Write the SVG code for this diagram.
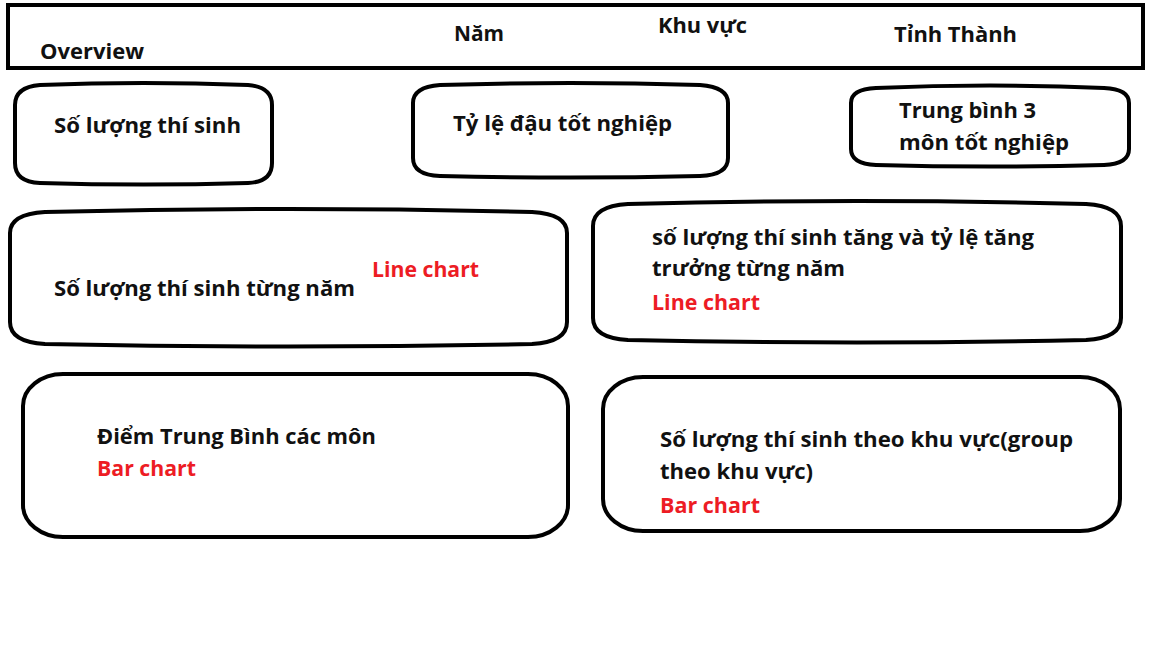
<svg xmlns="http://www.w3.org/2000/svg" width="1152" height="648" viewBox="0 0 1152 648">
<style>
.box{fill:#fff;stroke:#000;stroke-width:4}
.t{font-family:"Open Sans","Noto Sans","Liberation Sans",sans-serif;font-weight:700;font-size:22px;fill:#111}
.r{fill:#ED1C24}
</style>
<rect width="1152" height="648" fill="#fff"/>
<g id="header">
<rect x="8" y="5" width="1135" height="63" fill="#fff" stroke="#000" stroke-width="4"/>
<text class="t" x="40" y="59" textLength="104" lengthAdjust="spacingAndGlyphs">Overview</text>
<text class="t" x="454" y="41" textLength="50" lengthAdjust="spacingAndGlyphs">Năm</text>
<text class="t" x="658" y="33" textLength="89" lengthAdjust="spacingAndGlyphs">Khu vực</text>
<text class="t" x="894" y="42" textLength="123" lengthAdjust="spacingAndGlyphs">Tỉnh Thành</text>
</g>
<g id="n1">
<path class="box" d="M15,105 Q15,87 40,85 Q143,81 248,85 Q272,87 272,105 L272,163 Q272,182 248,183 Q143,186 40,183 Q15,182 15,163 Z"/>
<text class="t" x="54" y="133" textLength="187" lengthAdjust="spacingAndGlyphs">Số lượng thí sinh</text>
</g>
<g id="n2">
<path class="box" d="M413,103 Q413,87 440,85 Q570,81 700,85 Q728,87 728,103 L728,158 Q728,175 700,176 Q570,179 440,176 Q413,175 413,158 Z"/>
<text class="t" x="453" y="131" textLength="219" lengthAdjust="spacingAndGlyphs">Tỷ lệ đậu tốt nghiệp</text>
</g>
<g id="n3">
<path class="box" d="M851,103 Q851,89 876,88 Q990,83 1104,88 Q1129,89 1129,103 L1129,149 Q1129,164 1104,165 Q990,168 876,165 Q851,164 851,149 Z"/>
<text class="t" x="899" y="118" textLength="137" lengthAdjust="spacingAndGlyphs">Trung bình 3</text>
<text class="t" x="899" y="150" textLength="170" lengthAdjust="spacingAndGlyphs">môn tốt nghiệp</text>
</g>
<g id="n4">
<path class="box" d="M10,233 Q10,214 45,212 Q288,206 532,212 Q567,214 567,233 L567,322 Q567,342 532,344 Q288,349 45,344 Q10,342 10,322 Z"/>
<text class="t" x="54" y="296" textLength="301" lengthAdjust="spacingAndGlyphs">Số lượng thí sinh từng năm</text>
<text class="t r" x="372" y="277" textLength="107" lengthAdjust="spacingAndGlyphs">Line chart</text>
</g>
<g id="n5">
<path class="box" d="M593,226 Q593,206 628,204 Q857,198 1086,204 Q1121,206 1121,226 L1121,318 Q1121,338 1086,340 Q857,345 628,340 Q593,338 593,318 Z"/>
<text class="t" x="652" y="245" textLength="382" lengthAdjust="spacingAndGlyphs">số lượng thí sinh tăng và tỷ lệ tăng</text>
<text class="t" x="652" y="276" textLength="193" lengthAdjust="spacingAndGlyphs">trưởng từng năm</text>
<text class="t r" x="652" y="310" textLength="108" lengthAdjust="spacingAndGlyphs">Line chart</text>
</g>
<g id="n6">
<rect class="box" x="23" y="374" width="545" height="163" rx="40" ry="32"/>
<text class="t" x="97" y="444" textLength="279" lengthAdjust="spacingAndGlyphs">Điểm Trung Bình các môn</text>
<text class="t r" x="97" y="476" textLength="99" lengthAdjust="spacingAndGlyphs">Bar chart</text>
</g>
<g id="n7">
<rect class="box" x="603" y="377" width="517" height="154" rx="40" ry="32"/>
<text class="t" x="660" y="447" textLength="413" lengthAdjust="spacingAndGlyphs">Số lượng thí sinh theo khu vực(group</text>
<text class="t" x="660" y="479" textLength="153" lengthAdjust="spacingAndGlyphs">theo khu vực)</text>
<text class="t r" x="660" y="513" textLength="100" lengthAdjust="spacingAndGlyphs">Bar chart</text>
</g>
<g id="connectors"></g>
</svg>
